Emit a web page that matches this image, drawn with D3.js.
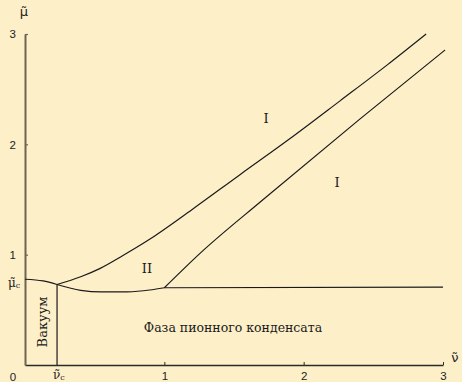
<!DOCTYPE html>
<html>
<head>
<meta charset="utf-8">
<script src="https://cdn.jsdelivr.net/npm/d3@7"></script>
<style>
  html, body { margin: 0; padding: 0; background: #fdefc8; }
  svg { display: block; }
</style>
</head>
<body>
<svg id="chart" width="462" height="382"></svg>
<script>
// Phase diagram in the (ν̃, μ̃) plane
const xTicks = [1, 2, 3];
const yTicks = [1, 2, 3];
const nuC = 0.23;
const muC = 0.777;

// vacuum boundary: from the μ̃ axis down to the critical point
const vacuumTop = [[0, 0.777], [0.13, 0.762], [0.23, 0.73]];
// lower edge of region II, joining the flat condensate boundary
const condensateEdge = [[0.23, 0.73], [0.4, 0.677], [0.55, 0.662], [0.7, 0.662], [0.85, 0.673], [1.0, 0.70]];
const condensateFlat = [[1.0, 0.70], [3.0, 0.705]];
// upper boundary between I and II
const upperBoundary = [[0.23, 0.73], [0.4, 0.8], [0.54, 0.876], [0.7, 0.99], [0.883, 1.13], [1.2, 1.41], [1.543, 1.725], [1.9, 2.05], [2.261, 2.394], [2.6, 2.72], [2.879, 3.0]];
// boundary between II and the right-hand region I
const lowerBoundary = [[1.0, 0.70], [1.256, 1.012], [1.701, 1.491], [2.405, 2.231], [3.015, 2.855]];

const svg = d3.select("#chart");
const x = d3.scaleLinear().domain([0, 3]).range([25, 443]);
const y = d3.scaleLinear().domain([0, 3]).range([365, 34]);

const axisColor = "#6f6553";
const sans = "Liberation Sans, Arial, sans-serif";
const fmt = d3.format("d");

// axes
const gx = svg.append("g").attr("transform", `translate(0,${y(0)})`)
  .call(d3.axisBottom(x).tickValues(xTicks).tickFormat(fmt).tickSize(-3).tickSizeOuter(0).tickPadding(7));
gx.select(".domain").attr("stroke", "#2a2a2a").attr("stroke-width", 1.5);
gx.selectAll(".tick line").attr("stroke", "#2a2a2a");
gx.selectAll(".tick text").attr("font-family", sans).attr("font-size", 11.5).attr("fill", "#222");

const gy = svg.append("g").attr("transform", `translate(${x(0)},0)`)
  .call(d3.axisLeft(y).tickValues(yTicks).tickFormat(fmt).tickSize(-3).tickSizeOuter(0).tickPadding(9));
gy.select(".domain").attr("stroke", axisColor).attr("stroke-width", 2);
gy.selectAll(".tick line").attr("stroke", axisColor).attr("stroke-width", 1.2);
gy.selectAll(".tick text").attr("font-family", sans).attr("font-size", 11.5).attr("fill", "#222");

// origin label
svg.append("text").attr("x", x(0) - 12).attr("y", y(0) + 16)
  .attr("text-anchor", "middle")
  .attr("font-family", sans).attr("font-size", 11.5).attr("fill", "#222")
  .text("0");

// axis titles
svg.append("text").attr("x", x(0) - 1).attr("y", 16)
  .attr("text-anchor", "middle")
  .attr("font-family", "DejaVu Sans, sans-serif").attr("font-size", 13).attr("fill", "#222")
  .text("μ\u0303");
svg.append("text").attr("x", 455).attr("y", y(0) - 3)
  .attr("text-anchor", "middle")
  .attr("font-family", "DejaVu Sans, sans-serif").attr("font-size", 13).attr("fill", "#222")
  .text("ν\u0303");

// critical values
const muLabel = svg.append("text").attr("x", 8).attr("y", y(muC) + 8)
  .attr("font-family", "DejaVu Serif, serif").attr("font-size", 12).attr("fill", "#222");
muLabel.append("tspan").text("μ\u0303");
muLabel.append("tspan").attr("font-size", 8).attr("dy", 1).text("c");

const nuLabel = svg.append("text").attr("x", x(nuC) - 4).attr("y", y(0) + 14)
  .attr("font-family", "DejaVu Serif, serif").attr("font-size", 12).attr("fill", "#222");
nuLabel.append("tspan").text("ν\u0303");
nuLabel.append("tspan").attr("font-size", 8).attr("dy", 1).text("c");

// phase boundaries
const line = d3.line().x(d => x(d[0])).y(d => y(d[1])).curve(d3.curveMonotoneX);
const lineStraight = d3.line().x(d => x(d[0])).y(d => y(d[1]));
const lineStyle = sel => sel.attr("fill", "none").attr("stroke", "#1a1a1a").attr("stroke-width", 1.2);

svg.append("path").attr("d", line(vacuumTop)).call(lineStyle);
svg.append("path").attr("d", line(condensateEdge)).call(lineStyle);
svg.append("path").attr("d", lineStraight(condensateFlat)).call(lineStyle);
svg.append("path").attr("d", line(upperBoundary)).call(lineStyle);
svg.append("path").attr("d", line(lowerBoundary)).call(lineStyle);
svg.append("path").attr("d", lineStraight([[nuC, 0], [nuC, 0.73]])).call(lineStyle);

// region labels
const serif = "DejaVu Serif, Georgia, serif";
const region = (tx, ty, txt, size) => svg.append("text").attr("x", tx).attr("y", ty)
  .attr("text-anchor", "middle").attr("dominant-baseline", "central")
  .attr("font-family", serif).attr("font-size", size).attr("fill", "#1a1a1a").text(txt);
region(266, 118, "I", 13);
region(337, 182, "I", 13);
region(147, 268, "II", 13);
region(233, 327, "Фаза пионного конденсата", 12.5);
svg.append("text").attr("transform", "translate(42,322) rotate(-90)")
  .attr("text-anchor", "middle").attr("dominant-baseline", "central")
  .attr("font-family", serif).attr("font-size", 13).attr("fill", "#1a1a1a").text("Вакуум");
</script>
</body>
</html>
